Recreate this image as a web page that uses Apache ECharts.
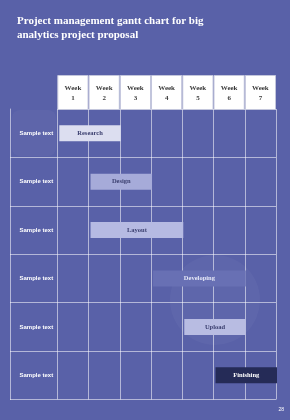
<!DOCTYPE html>
<html>
<head>
<meta charset="utf-8">
<script src="https://cdn.jsdelivr.net/npm/echarts@6/dist/echarts.min.js"></script>
<style>
html,body{margin:0;padding:0;background:#5961a8;}
#c{width:290px;height:420px;}
</style>
</head>
<body>
<div id="c"></div>
<script>
const titleText = 'Project management gantt chart for big\nanalytics project proposal';
const weeks = ['Week\n1','Week\n2','Week\n3','Week\n4','Week\n5','Week\n6','Week\n7'];
const rowLabels = ['Sample text','Sample text','Sample text','Sample text','Sample text','Sample text'];
const taskNames = ['Research','Design','Layout','Developing','Upload','Finishing'];
const taskStart = [0, 1, 1, 3, 4, 5];
const taskEnd = [2, 3, 4, 6, 6, 7];
const pageNumber = '28';

const barFill = ['#dcdef0','#a6abd9','#b6bae2','#6870b4','#b8bce2','#252b57'];
const barText = ['#3c4070','#3c4070','#3c4070','#e6e8f7','#3c4070','#ffffff'];
const barWeight = ['600','600','600','600','600','bold'];
const lineCol = 'rgba(255,255,255,0.55)';

const chart = echarts.init(document.getElementById('c'), null, {renderer:'canvas'});

const taskData = taskNames.map((n,i)=>[taskStart[i], taskEnd[i], i, n]);

chart.setOption({
  backgroundColor:'#5961a8',
  animation:false,
  title:{
    text:titleText, left:12, top:9,
    textStyle:{color:'#ffffff', fontFamily:'Liberation Serif', fontWeight:'bold', fontSize:11, lineHeight:14}
  },
  graphic:[
    {type:'circle', shape:{cx:215, cy:300, r:45}, style:{fill:'rgba(255,255,255,0.035)'}, z:-1},
    {type:'rect', shape:{x:12, y:110, width:44, height:46, r:8}, style:{fill:'rgba(255,255,255,0.03)'}, z:-1},
    {type:'text', right:6, bottom:8, style:{text:pageNumber, fill:'#ffffff', fontSize:5, fontFamily:'Liberation Sans'}}
  ],
  grid:[
    {left:57.3, right:14, top:109, bottom:20.5},
    {left:10, width:47.3, top:109, bottom:20.5},
    {left:57.3, right:14, top:75, height:35}
  ],
  xAxis:[
    {gridIndex:0, type:'value', min:0, max:7, interval:1, position:'top',
     axisLine:{show:false}, axisTick:{show:false}, axisLabel:{show:false},
     splitLine:{show:true, lineStyle:{color:lineCol, width:1}}},
    {gridIndex:1, type:'value', min:0, max:1, show:false},
    {gridIndex:2, type:'category', data:weeks, show:false}
  ],
  yAxis:[
    {gridIndex:0, type:'category', data:rowLabels, inverse:true,
     axisLine:{show:false}, axisTick:{show:false},
     axisLabel:{show:true, color:'#ffffff', fontSize:6, fontWeight:'bold', fontFamily:'Liberation Sans', align:'center', margin:21},
     splitLine:{show:true, interval:0, lineStyle:{color:lineCol, width:1}}},
    {gridIndex:1, type:'category', data:rowLabels, inverse:true,
     axisLine:{show:true, lineStyle:{color:lineCol, width:1}}, axisTick:{show:false}, axisLabel:{show:false},
     splitLine:{show:true, interval:0, showMinLine:false, lineStyle:{color:lineCol, width:1}}},
    {gridIndex:2, type:'value', min:0, max:1, show:false}
  ],
  series:[
    {
      type:'bar', xAxisIndex:2, yAxisIndex:2, barWidth:'100%', barGap:0,
      data:weeks.map(()=>1),
      itemStyle:{color:'#ffffff', borderColor:'#c3c6dc', borderWidth:1},
      label:{show:true, position:'inside', formatter:(p)=>weeks[p.dataIndex], color:'#3a3a3a',
        fontFamily:'Liberation Serif', fontWeight:'bold', fontSize:7, lineHeight:10, offset:[0,1]},
      silent:true
    },
    {
      type:'custom', xAxisIndex:0, yAxisIndex:0,
      data:taskData,
      encode:{x:[0,1], y:2},
      renderItem:function(params, api){
        const i = api.value(2);
        const s = api.coord([api.value(0), i]);
        const e = api.coord([api.value(1), i]);
        const h = 16;
        const x0 = s[0] + 2, x1 = e[0] + 1;
        return {
          type:'group',
          children:[
            {type:'rect', shape:{x:x0, y:s[1]-h/2, width:x1-x0, height:h},
             style:{fill:barFill[i]}},
            {type:'text', style:{x:(x0+x1)/2, y:s[1], text:taskNames[i], fill:barText[i],
             align:'center', verticalAlign:'middle', font:barWeight[i] + ' 6.5px "Liberation Serif"'}}
          ]
        };
      }
    }
  ]
});
</script>
</body>
</html>
